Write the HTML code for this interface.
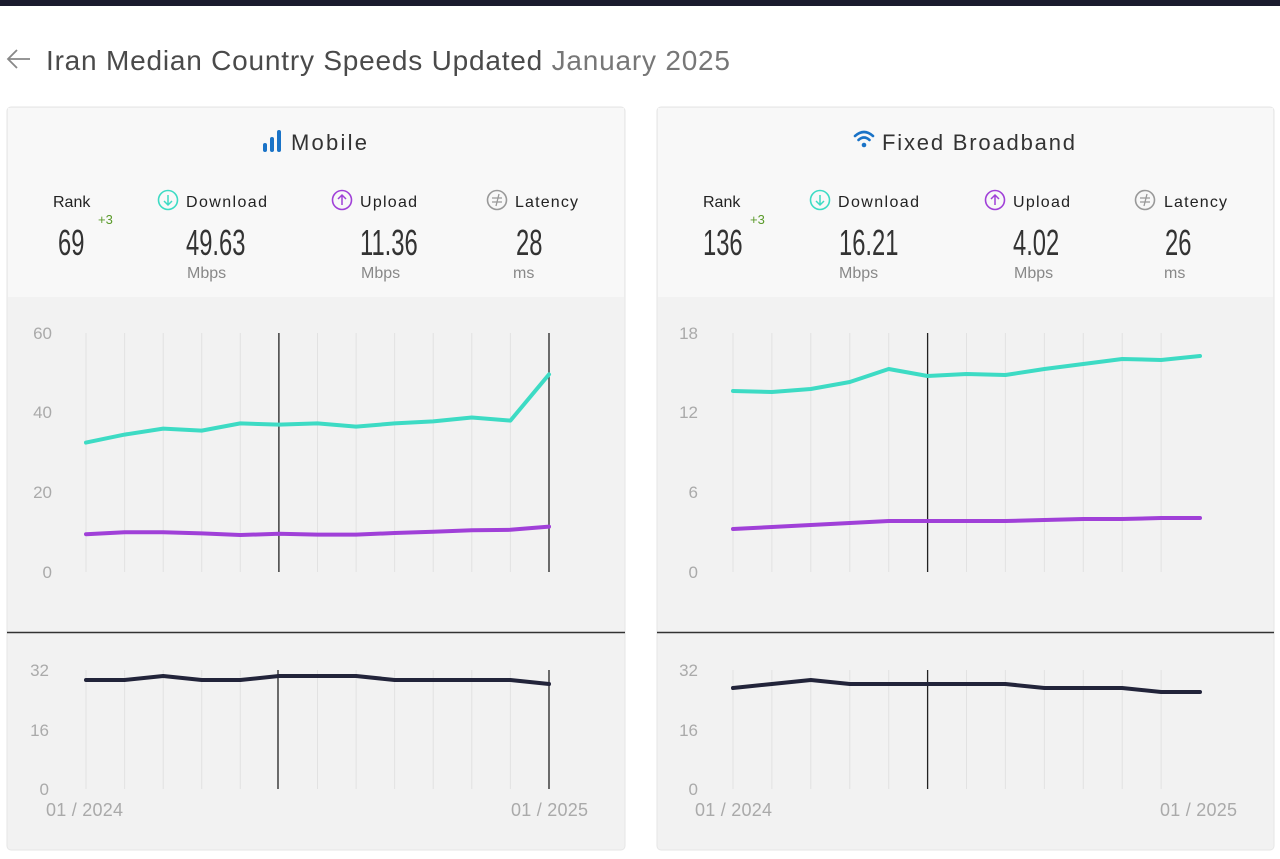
<!DOCTYPE html>
<html><head><meta charset="utf-8"><style>
html,body{margin:0;padding:0;background:#fff;}
svg{display:block;font-family:"Liberation Sans",sans-serif;}
.num{font-family:"Liberation Sans",sans-serif;font-weight:300;}
</style></head><body>
<svg width="1280" height="859" viewBox="0 0 1280 859" xmlns="http://www.w3.org/2000/svg">
<rect x="0" y="0" width="1280" height="6" fill="#1a1b2e"/>
<!-- title -->
<path d="M30 59 H9 M17 50 L8 59 L17 68" stroke="#888" stroke-width="1.8" fill="none"/>
<text x="46" y="70" font-size="28" fill="#4a4a4a" textLength="684" lengthAdjust="spacing">Iran Median Country Speeds Updated <tspan fill="#777">January 2025</tspan></text>

<!-- cards -->
<g>
<rect x="7" y="107" width="618" height="743" rx="4" fill="#f2f2f2" stroke="#e6e6e6"/>
<rect x="8" y="108" width="616" height="189" fill="#f8f8f8"/>
<rect x="657" y="107" width="617" height="743" rx="4" fill="#f2f2f2" stroke="#e6e6e6"/>
<rect x="658" y="108" width="615" height="189" fill="#f8f8f8"/>
<line x1="7" y1="632.5" x2="625" y2="632.5" stroke="#333" stroke-width="1.5"/>
<line x1="657" y1="632.5" x2="1274" y2="632.5" stroke="#333" stroke-width="1.5"/>
</g>

<!-- Mobile header -->
<g fill="#1a73c7"><rect x="263" y="143" width="4" height="9" rx="2"/><rect x="270" y="137" width="4" height="15" rx="2"/><rect x="277" y="130" width="4" height="22" rx="2"/></g>
<text x="291" y="150" font-size="22" fill="#333" textLength="76" lengthAdjust="spacing">Mobile</text>
<!-- Fixed header -->
<g fill="none" stroke="#1a73c7" stroke-width="2.6" stroke-linecap="round"><path d="M855 136 Q864 128 873 136"/><path d="M858.5 140 Q864 135 869.5 140"/></g>
<circle cx="864" cy="145" r="2.3" fill="#1a73c7"/>
<text x="882" y="150" font-size="22" fill="#333" textLength="193" lengthAdjust="spacing">Fixed Broadband</text>

<!-- stats mobile -->
<g font-size="16" fill="#222">
<text x="53" y="207">Rank</text>
<circle cx="168" cy="200" r="9.5" fill="none" stroke="#3ddbc4" stroke-width="1.6"/><path d="M168 195 V205 M164 201 L168 205 L172 201" stroke="#3ddbc4" stroke-width="1.5" fill="none"/>
<text x="186" y="207" textLength="81" lengthAdjust="spacing">Download</text>
<circle cx="342" cy="200" r="9.5" fill="none" stroke="#a040d8" stroke-width="1.6"/><path d="M342 205 V195 M338 199 L342 195 L346 199" stroke="#a040d8" stroke-width="1.5" fill="none"/>
<text x="360" y="207" textLength="57" lengthAdjust="spacing">Upload</text>
<circle cx="497" cy="200" r="9.5" fill="none" stroke="#999" stroke-width="1.6"/><path d="M492 198 H502 M492 202 H502 M499 194 L496 206" stroke="#999" stroke-width="1.3" fill="none"/>
<text x="515" y="207" textLength="63" lengthAdjust="spacing">Latency</text>
</g>
<text x="98" y="224" font-size="13" fill="#5a9a2a">+3</text>
<g class="num" font-size="36" fill="#333">
<text x="58" y="255" transform="translate(58 0) scale(0.66 1) translate(-58 0)">69</text>
<text x="186" y="255" transform="translate(186 0) scale(0.66 1) translate(-186 0)">49.63</text>
<text x="360" y="255" transform="translate(360 0) scale(0.66 1) translate(-360 0)">11.36</text>
<text x="516" y="255" transform="translate(516 0) scale(0.66 1) translate(-516 0)">28</text>
</g>
<g font-size="16" fill="#888"><text x="187" y="278">Mbps</text><text x="361" y="278">Mbps</text><text x="513" y="278">ms</text></g>

<!-- stats fixed -->
<g font-size="16" fill="#222">
<text x="703" y="207">Rank</text>
<circle cx="820" cy="200" r="9.5" fill="none" stroke="#3ddbc4" stroke-width="1.6"/><path d="M820 195 V205 M816 201 L820 205 L824 201" stroke="#3ddbc4" stroke-width="1.5" fill="none"/>
<text x="838" y="207" textLength="81" lengthAdjust="spacing">Download</text>
<circle cx="995" cy="200" r="9.5" fill="none" stroke="#a040d8" stroke-width="1.6"/><path d="M995 205 V195 M991 199 L995 195 L999 199" stroke="#a040d8" stroke-width="1.5" fill="none"/>
<text x="1013" y="207" textLength="57" lengthAdjust="spacing">Upload</text>
<circle cx="1145" cy="200" r="9.5" fill="none" stroke="#999" stroke-width="1.6"/><path d="M1140 198 H1150 M1140 202 H1150 M1147 194 L1144 206" stroke="#999" stroke-width="1.3" fill="none"/>
<text x="1164" y="207" textLength="63" lengthAdjust="spacing">Latency</text>
</g>
<text x="750" y="224" font-size="13" fill="#5a9a2a">+3</text>
<g class="num" font-size="36" fill="#333">
<text x="703" y="255" transform="translate(703 0) scale(0.66 1) translate(-703 0)">136</text>
<text x="839" y="255" transform="translate(839 0) scale(0.66 1) translate(-839 0)">16.21</text>
<text x="1013" y="255" transform="translate(1013 0) scale(0.66 1) translate(-1013 0)">4.02</text>
<text x="1165" y="255" transform="translate(1165 0) scale(0.66 1) translate(-1165 0)">26</text>
</g>
<g font-size="16" fill="#888"><text x="839" y="278">Mbps</text><text x="1014" y="278">Mbps</text><text x="1164" y="278">ms</text></g>

<!-- grids -->
<g stroke="#e2e2e2" stroke-width="1">
<path d="M86 333V572M124.6 333V572M163.2 333V572M201.7 333V572M240.3 333V572M317.5 333V572M356.1 333V572M394.6 333V572M433.2 333V572M471.8 333V572M510.4 333V572"/>
<path d="M86 670V789M124.6 670V789M163.2 670V789M201.7 670V789M240.3 670V789M317.5 670V789M356.1 670V789M394.6 670V789M433.2 670V789M471.8 670V789M510.4 670V789"/>
<path d="M733 333V572M771.9 333V572M810.8 333V572M849.8 333V572M888.7 333V572M966.5 333V572M1005.4 333V572M1044.4 333V572M1083.3 333V572M1122.2 333V572M1161.1 333V572"/>
<path d="M733 670V789M771.9 670V789M810.8 670V789M849.8 670V789M888.7 670V789M966.5 670V789M1005.4 670V789M1044.4 670V789M1083.3 670V789M1122.2 670V789M1161.1 670V789"/>
</g>
<g stroke="#222" stroke-width="1.3">
<path d="M278.9 333V572M549 333V572M278 670V789M549 670V789"/>
<path d="M927.6 333V572M927.6 670V789"/>
</g>

<!-- axis labels -->
<g font-size="17" fill="#aaa" text-anchor="end">
<text x="52" y="339">60</text><text x="52" y="418">40</text><text x="52" y="498">20</text><text x="52" y="578">0</text>
<text x="49" y="676">32</text><text x="49" y="736">16</text><text x="49" y="795">0</text>
<text x="698" y="339">18</text><text x="698" y="418">12</text><text x="698" y="498">6</text><text x="698" y="578">0</text>
<text x="698" y="676">32</text><text x="698" y="736">16</text><text x="698" y="795">0</text>
</g>
<g font-size="18" fill="#aaa">
<text x="46" y="816" textLength="77" lengthAdjust="spacing">01 / 2024</text><text x="511" y="816" textLength="77" lengthAdjust="spacing">01 / 2025</text>
<text x="695" y="816" textLength="77" lengthAdjust="spacing">01 / 2024</text><text x="1160" y="816" textLength="77" lengthAdjust="spacing">01 / 2025</text>
</g>

<!-- series -->
<g fill="none" stroke-width="4" stroke-linejoin="round" stroke-linecap="round">
<polyline stroke="#3ddbc4" points="86,442.6 124.6,434.6 163.2,428.6 201.7,430.6 240.3,423.4 278.9,424.6 317.5,423.4 356.1,426.6 394.6,423.4 433.2,421.4 471.8,417.5 510.4,420.6 549,374.4"/>
<polyline stroke="#a040d8" points="86,534.2 124.6,532.2 163.2,532.2 201.7,533.4 240.3,535 278.9,533.8 317.5,534.6 356.1,534.6 394.6,533 433.2,531.8 471.8,530.2 510.4,529.8 549,526.6"/>
<polyline stroke="#22243a" points="86,680 124.6,680 163.2,676 201.7,680 240.3,680 278.9,676 317.5,676 356.1,676 394.6,680 433.2,680 471.8,680 510.4,680 549,684"/>
<polyline stroke="#3ddbc4" points="733,391 771.9,392 810.8,389 849.8,382 888.7,369 927.6,376 966.5,374 1005.4,375 1044.4,369 1083.3,364 1122.2,359 1161.1,360 1200,356"/>
<polyline stroke="#a040d8" points="733,529 771.9,527 810.8,525 849.8,523 888.7,521 927.6,521 966.5,521 1005.4,521 1044.4,520 1083.3,519 1122.2,519 1161.1,518 1200,518"/>
<polyline stroke="#22243a" points="733,688 771.9,684 810.8,680 849.8,684 888.7,684 927.6,684 966.5,684 1005.4,684 1044.4,688 1083.3,688 1122.2,688 1161.1,692 1200,692"/>
</g>
</svg>
</body></html>
